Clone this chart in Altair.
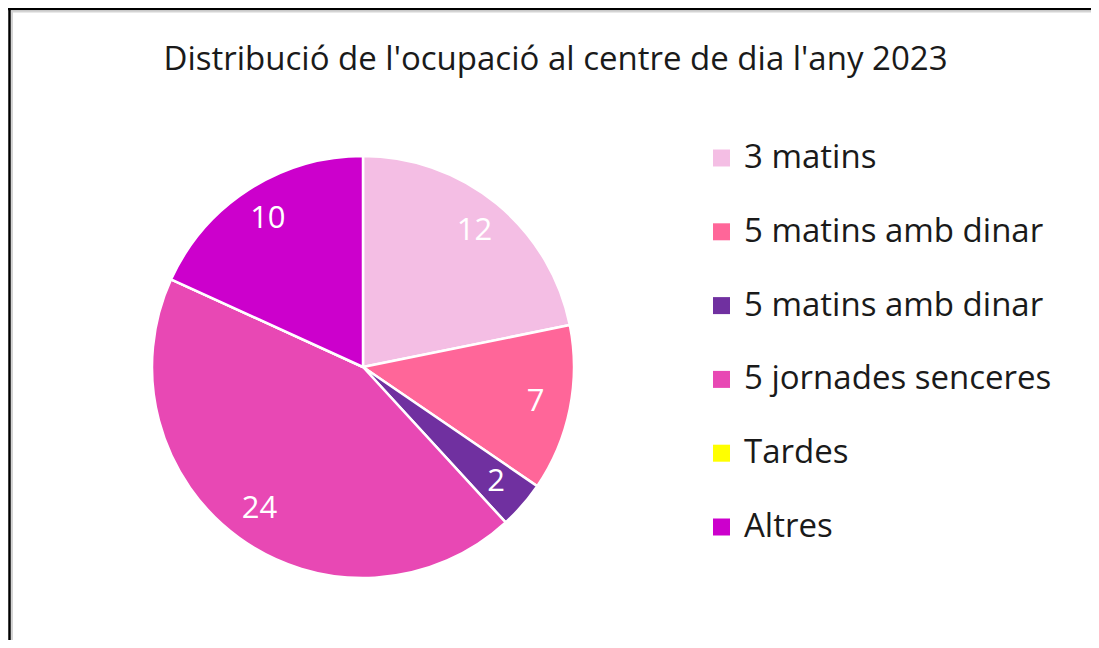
import altair as alt
import pandas as pd

chart_title = "Distribució de l'ocupació al centre de dia l'any 2023"
categories = ["3 matins", "5 matins amb dinar", "5 matins amb dinar\u200b",
              "5 jornades senceres", "Tardes", "Altres"]
values = [12, 7, 2, 24, 0, 10]
colors = ["#F4BEE4", "#FF6699", "#7030A0", "#E848B4", "#FFFF00", "#CC00CC"]

df = pd.DataFrame({"cat": categories, "val": values, "ord": list(range(len(values)))})
frame_df = pd.DataFrame({"k": [0]})

W, H = 1083, 632
CX, CY = 355, 359
FONT = "Open Sans"

base = alt.Chart(df).encode(
    theta=alt.Theta("val:Q", stack=True),
    order=alt.Order("ord:Q"),
)

pie = base.mark_arc(radius=211, stroke="white", strokeWidth=2.5).encode(
    x=alt.value(CX), y=alt.value(CY),
    color=alt.Color(
        "cat:N",
        sort=categories,
        scale=alt.Scale(domain=categories, range=colors),
        legend=alt.Legend(
            orient="none", legendX=697, legendY=133.5, title=None,
            symbolType="square", symbolSize=289, symbolStrokeWidth=0,
            symbolOpacity=1, labelFontSize=33, labelFont=FONT,
            labelColor="#1a1a1a", rowPadding=39.8, labelOffset=6, padding=0,
            labelLimit=500,
        ),
    ),
)

labels = base.mark_text(radius=176, fontSize=31, color="white", font=FONT).encode(
    x=alt.value(CX), y=alt.value(CY),
    text=alt.Text("val:Q"),
).transform_filter("datum.val > 0")

top_line = alt.Chart(frame_df).mark_rule(color="black", strokeWidth=2.5).encode(
    x=alt.value(0), x2=alt.value(W), y=alt.value(1))
left_line = alt.Chart(frame_df).mark_rule(color="black", strokeWidth=2.5).encode(
    y=alt.value(0), y2=alt.value(H), x=alt.value(1.5))
top_shadow = alt.Chart(frame_df).mark_rule(color="#D4D4D4", strokeWidth=2).encode(
    x=alt.value(3), x2=alt.value(W), y=alt.value(3.5))
left_shadow = alt.Chart(frame_df).mark_rule(color="#D4D4D4", strokeWidth=2).encode(
    y=alt.value(3), y2=alt.value(H), x=alt.value(4))

chart = alt.layer(top_line, left_line, top_shadow, left_shadow, pie, labels).properties(
    width=W, height=H,
    autosize=alt.AutoSizeParams(type="none"),
    padding=0,
    title=alt.TitleParams(
        text=chart_title, font=FONT, fontSize=33, fontWeight="normal",
        color="#1a1a1a", anchor="middle", baseline="alphabetic",
        offset=0, dx=6, dy=96,
    ),
).configure_view(stroke=None)

chart.save("out.html", embed_options={"renderer": "svg", "actions": False})
